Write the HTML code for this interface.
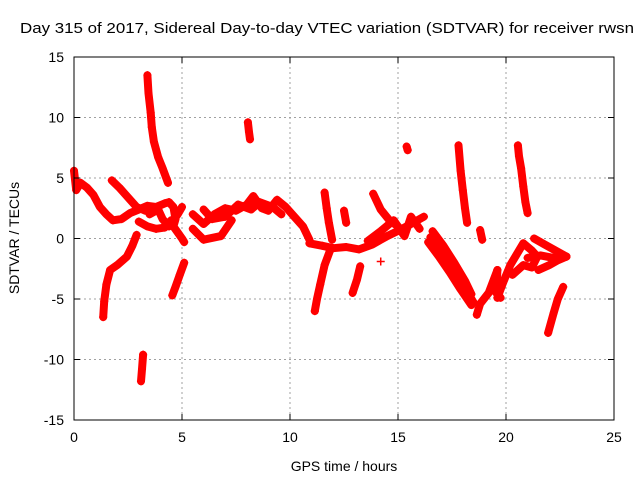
<!DOCTYPE html>
<html><head><meta charset="utf-8"><style>
body{margin:0;background:#fff}
svg{display:block;font-family:"Liberation Sans",sans-serif}
</style></head><body>
<svg id="chart" width="640" height="480">
<text x="20" y="33" font-size="15" textLength="614" lengthAdjust="spacingAndGlyphs">Day 315 of 2017, Sidereal Day-to-day VTEC variation (SDTVAR) for receiver rwsn</text>
<text x="344" y="471" font-size="14" text-anchor="middle">GPS time / hours</text>
<text x="0" y="0" font-size="14" text-anchor="middle" transform="translate(19,238) rotate(-90)">SDTVAR / TECUs</text>
<g id="grid"></g><g id="marks"></g><g id="axes"></g>
</svg>
<script>
const xTicks=[0,5,10,15,20,25];
const yTicks=[-15,-10,-5,0,5,10,15];
// tracks: [hour, SDTVAR]
const track1=[[0,5.6],[0.1,4.0],[0.3,4.6],[0.6,4.2],[0.9,3.6],[1.2,2.6],[1.5,2.0],[1.8,1.5],[2.2,1.6],[2.6,2.1],[3.0,2.4],[3.4,2.7],[3.8,2.6],[4.2,2.9],[4.4,3.0]];
const track2=[[1.75,4.8],[2.1,4.2],[2.5,3.4],[2.9,2.6],[3.3,2.3]];
const track3=[[3.0,1.4],[3.4,1.0],[3.8,0.8],[4.2,0.9],[4.5,1.5]];
const track4=[[4.4,3.0],[4.6,2.6],[4.7,1.6],[4.6,1.0],[4.8,0.5],[5.0,0.0],[5.1,-0.3]];
const track5=[[2.9,0.3],[2.7,-0.6],[2.45,-1.5],[2.0,-2.2],[1.67,-2.6],[1.5,-3.8],[1.4,-5.2],[1.35,-6.5]];
const track6=[[3.4,13.5],[3.45,12.0],[3.55,10.4],[3.6,9.2],[3.7,8.0],[3.9,6.7],[4.1,5.8],[4.35,4.6]];
const track7=[[3.2,-9.6],[3.15,-10.8],[3.1,-11.8]];
const track8=[[8.05,9.6],[8.1,8.8],[8.15,8.2]];
const track9=[[5.1,-2.0],[4.9,-3.0],[4.7,-4.0],[4.55,-4.7]];
const track10=[[5.5,2.0],[6.0,1.2],[6.5,2.0],[7.0,2.5],[7.5,2.3],[8.0,2.8],[8.3,3.5],[8.7,2.5],[9.0,2.3],[9.4,3.2],[9.8,2.6],[10.2,1.8],[10.6,1.0],[10.9,-0.1]];
const track11=[[5.5,0.8],[6.0,-0.1],[6.8,0.2],[7.3,1.5]];
const track31=[[6.0,2.4],[6.4,1.6],[7.0,1.8],[7.6,2.8],[8.2,2.4],[8.6,3.0],[9.2,2.6],[9.6,2.0]];
const track32=[[3.5,2.0],[3.9,2.4],[4.1,1.6],[4.4,1.0],[4.8,2.0],[5.0,2.6]];
const track12=[[10.9,-0.4],[11.5,-0.6],[12.0,-0.8],[12.6,-0.7],[13.2,-0.9],[13.8,-0.5],[14.5,0.2],[15.2,0.8],[15.7,1.3],[16.2,1.8]];
const track33=[[13.6,-0.2],[14.2,0.6],[14.8,1.5],[15.3,0.2],[15.6,1.8],[16.0,0.8]];
const track13=[[11.85,-1.0],[11.6,-2.2],[11.4,-3.8],[11.25,-5.0],[11.15,-6.0]];
const track14=[[11.6,3.8],[11.7,2.5],[11.8,1.3],[11.95,-0.1]];
const track15=[[12.5,2.3],[12.6,1.3]];
const track16=[[13.25,-2.3],[13.1,-3.4],[12.9,-4.5]];
const track17=[[13.85,3.7],[14.2,2.4],[14.6,1.5],[15.0,1.0]];
const track18=[[14.2,-1.9]];
const track19=[[15.4,7.6],[15.45,7.3]];
const track20=[[16.5,0.1],[17.0,-1.0],[17.5,-2.4],[18.0,-3.8],[18.5,-5.3]];
const track21=[[16.6,0.6],[17.1,-0.6],[17.6,-2.0],[18.1,-3.5],[18.4,-4.6]];
const track34=[[16.4,-0.3],[16.9,-1.5],[17.4,-2.8],[17.9,-4.2],[18.4,-5.5]];
const track22=[[18.65,-6.3],[18.8,-5.4],[19.2,-4.5],[19.6,-2.6]];
const track23=[[18.8,0.7],[18.9,-0.1]];
const track24=[[17.8,7.7],[17.9,5.6],[18.0,4.0],[18.1,2.5],[18.2,1.3]];
const track25=[[20.55,7.7],[20.6,6.8],[20.7,5.8],[20.8,4.3],[20.9,3.0],[21.0,2.1]];
const track26=[[19.6,-4.9],[19.85,-3.7],[20.2,-2.2],[20.8,-0.4],[21.2,-1.0],[21.45,-1.5],[21.2,-2.4],[20.8,-2.2],[20.3,-3.0]];
const track27=[[21.3,0.0],[21.8,-0.5],[22.3,-1.0],[22.8,-1.5]];
const track28=[[21.5,-2.6],[22.0,-2.2],[22.4,-1.8],[22.8,-1.5],[22.2,-1.6],[21.6,-1.4],[21.0,-1.6]];
const track29=[[22.65,-4.0],[22.4,-5.0],[22.2,-6.2],[21.95,-7.8]];
const track30=[[19.6,-2.6],[19.55,-4.5],[19.75,-4.9]];
const tracks=[track1,track2,track3,track4,track5,track6,track7,track8,track9,track10,track11,track31,track32,track12,track33,track13,track14,track15,track16,track17,track18,track19,track20,track21,track34,track22,track23,track24,track25,track26,track27,track28,track29,track30];

const L=74,R=614,T=57,B=420,NS="http://www.w3.org/2000/svg";
const xs=h=>L+(h-0)/(25-0)*(R-L);
const ys=v=>B-(v+15)/30*(B-T);
function mk(tag,at,parent){const e=document.createElementNS(NS,tag);for(const k in at)e.setAttribute(k,at[k]);parent.appendChild(e);return e;}
const grid=document.getElementById('grid'),axes=document.getElementById('axes'),marks=document.getElementById('marks');
xTicks.forEach(t=>{const x=xs(t);
 if(t>0&&t<25){const g=mk('line',{x1:x,y1:T,x2:x,y2:B,stroke:'#a0a0a0','stroke-dasharray':'2,3'},grid);
 
 }
 mk('line',{x1:x,y1:B,x2:x,y2:B-6,stroke:'#000'},axes);mk('line',{x1:x,y1:T,x2:x,y2:T+6,stroke:'#000'},axes);
 const tx=mk('text',{x:x,y:B+22,'font-size':14,'text-anchor':'middle'},axes);tx.textContent=t;
 
 });
yTicks.forEach(t=>{const y=ys(t);
 if(t>-15&&t<15){const g=mk('line',{x1:L,y1:y,x2:R,y2:y,stroke:'#a0a0a0','stroke-dasharray':'2,3'},grid);
 
 }
 mk('line',{x1:L,y1:y,x2:L+6,y2:y,stroke:'#000'},axes);mk('line',{x1:R,y1:y,x2:R-6,y2:y,stroke:'#000'},axes);
 const tx=mk('text',{x:L-10,y:y+5,'font-size':14,'text-anchor':'end'},axes);tx.textContent=t;
 
 });
const frame=mk('rect',{x:L,y:T,width:R-L,height:B-T,fill:'none',stroke:'#000'},axes);


tracks.forEach(tr=>{
 const d=tr.map((p,i)=>(i?'L':'M')+xs(p[0]).toFixed(1)+' '+ys(p[1]).toFixed(1)).join(' ');
 const path=mk('path',{d:d,fill:'none',stroke:'#f00','stroke-width':8,'stroke-linejoin':'round','stroke-linecap':'round'},marks);
 
 
 tr.forEach(p=>{const x=xs(p[0]),y=ys(p[1]);
  const pt=mk('path',{d:`M${x-4} ${y}H${x+4}M${x} ${y-4}V${y+4}`,stroke:'#f00','stroke-width':1.5},marks);
  
  });
});
</script>
</body></html>
